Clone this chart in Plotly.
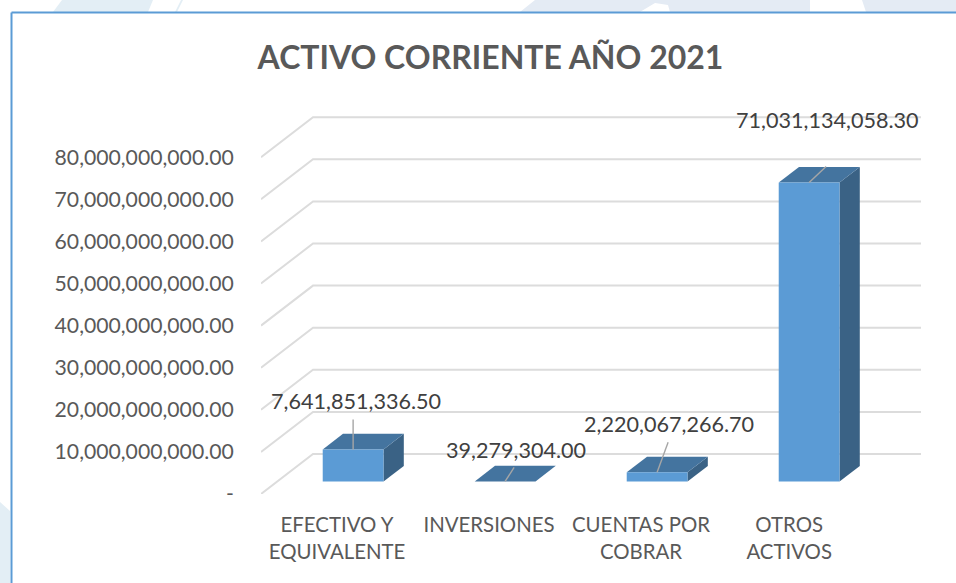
import plotly.graph_objects as go

# ---- data ----
categories = ["EFECTIVO Y<br>EQUIVALENTE", "INVERSIONES", "CUENTAS POR<br>COBRAR", "OTROS<br>ACTIVOS"]
values = [7641851336.50, 39279304.00, 2220067266.70, 71031134058.30]
value_labels = ["7,641,851,336.50", "39,279,304.00", "2,220,067,266.70", "71,031,134,058.30"]
y_ticks = [0, 1e10, 2e10, 3e10, 4e10, 5e10, 6e10, 7e10, 8e10]
title = "ACTIVO CORRIENTE AÑO 2021"

# ---- pixel layout of the plot area ----
W, H = 956, 583
L, R, T, B = 261, 921, 100, 494
PX_PER_X = 152.0              # one category
PX_PER_Y = 42.1 / 1e10        # one value unit
X_MIN = -0.5
X_MAX = X_MIN + (R - L) / PX_PER_X
Y_MAX = (B - T) / PX_PER_Y

# oblique floor: full chart depth, in axis units
DEPTH_X = 52 / PX_PER_X
DEPTH_Y = 40 / PX_PER_Y
BAR_NEAR, BAR_FAR = 0.31, 0.70   # fraction of the depth occupied by the bars
BAR_W = 0.40

FRONT, TOP, SIDE = "#5B9BD5", "#44749F", "#3A6285"
GRID, TEXT, LABEL, LEADER = "#DCDCDC", "#595959", "#404040", "#A6A6A6"
FONT = "Lato"

fig = go.Figure()

# gridlines: slanted floor segment plus the back wall line
for v in y_ticks:
    fig.add_trace(go.Scatter(
        x=[X_MIN, X_MIN + DEPTH_X, X_MAX],
        y=[v, v + DEPTH_Y, v + DEPTH_Y],
        mode="lines", line=dict(color=GRID, width=2),
        hoverinfo="skip", showlegend=False, cliponaxis=False))


def face(xs, ys, color):
    fig.add_trace(go.Scatter(
        x=xs, y=ys, mode="lines", fill="toself", fillcolor=color,
        line=dict(color=color, width=0),
        hoverinfo="skip", showlegend=False, cliponaxis=False))


for i, v in enumerate(values):
    x0 = i - BAR_W / 2 + BAR_NEAR * DEPTH_X
    x1 = x0 + BAR_W
    y0 = BAR_NEAR * DEPTH_Y
    dx = (BAR_FAR - BAR_NEAR) * DEPTH_X
    dy = (BAR_FAR - BAR_NEAR) * DEPTH_Y
    face([x1, x1 + dx, x1 + dx, x1, x1], [y0, y0 + dy, y0 + dy + v, y0 + v, y0], SIDE)
    face([x0, x1, x1 + dx, x0 + dx, x0], [y0 + v, y0 + v, y0 + dy + v, y0 + dy + v, y0 + v], TOP)
    face([x0, x1, x1, x0, x0], [y0, y0, y0 + v, y0 + v, y0], FRONT)

# data labels and their short leader lines, offset in pixels from the bar's top-front centre
label_offsets = [(3, 48), (11, 31), (12, 48), (18, 63)]
leader_offsets = [(0, 30), (9, 14), (11, 30), (17, 16)]
annotations = []
for i, (v, txt, (tx, ty), (lx, ly)) in enumerate(zip(values, value_labels, label_offsets, leader_offsets)):
    ax_x = i + BAR_NEAR * DEPTH_X
    ax_y = BAR_NEAR * DEPTH_Y + v
    fig.add_trace(go.Scatter(
        x=[ax_x, ax_x + lx / PX_PER_X], y=[ax_y, ax_y + ly / PX_PER_Y],
        mode="lines", line=dict(color=LEADER, width=1.4),
        hoverinfo="skip", showlegend=False, cliponaxis=False))
    annotations.append(dict(
        x=ax_x, y=ax_y, xref="x", yref="y", text=txt, showarrow=False,
        xshift=tx, yshift=ty, font=dict(family=FONT, size=21.6, color=LABEL)))


# page frame and the pale background bands around it, given in page pixels
def px_x(p):
    return (p - L) / (R - L)


def px_y(p):
    return (B - p) / (B - T)


def path(points):
    return "M " + " L ".join(f"{px_x(a):.5f},{px_y(b):.5f}" for a, b in points) + " Z"


band_left, band_right = "#E3EEF5", "#E4EBF4"
bands = [
    ([(53, 12), (148, 12), (153, 0), (62, 0)], band_left),
    ([(175, 12), (177, 12), (183, 0), (181, 0)], band_left),
    ([(520, 12), (640, 12), (655, 3), (668, 5), (670, 12), (810, 12), (810, 0), (535, 0)], band_right),
    ([(866, 12), (956, 12), (956, 0), (862, 0)], band_right),
    ([(0, 502), (10, 511), (10, 583), (0, 583)], band_left),
]
shapes = [dict(type="path", xref="paper", yref="paper", path=path(p), fillcolor=c,
               line=dict(width=0), layer="below") for p, c in bands]
shapes += [
    dict(type="line", xref="paper", yref="paper", x0=px_x(11.5), x1=px_x(956),
         y0=px_y(12.5), y1=px_y(12.5), line=dict(color=FRONT, width=2), layer="below"),
    dict(type="line", xref="paper", yref="paper", x0=px_x(11.5), x1=px_x(11.5),
         y0=px_y(12.5), y1=px_y(583), line=dict(color=FRONT, width=2), layer="below"),
]

fig.update_layout(
    width=W, height=H, autosize=False,
    margin=dict(l=L, r=W - R, t=T, b=H - B, pad=0),
    paper_bgcolor="white", plot_bgcolor="rgba(0,0,0,0)",
    showlegend=False, shapes=shapes, annotations=annotations,
    title=dict(text=f"<b>{title}</b>", x=(258 + 723) / 2 / W, xanchor="center",
               y=1 - 58 / H, yanchor="middle",
               font=dict(family=FONT, size=32, color=TEXT)),
    xaxis=dict(range=[X_MIN, X_MAX], tickmode="array", tickvals=[0, 1, 2, 2.975],
               ticktext=categories, showgrid=False, zeroline=False, showline=False,
               ticks="outside", ticklen=13, tickcolor="rgba(0,0,0,0)",
               tickfont=dict(family=FONT, size=20.4, color=TEXT)),
    yaxis=dict(range=[0, Y_MAX], tickmode="array", tickvals=y_ticks,
               ticktext=["-" if t == 0 else f"{t:,.2f}" for t in y_ticks],
               showgrid=False, zeroline=False, showline=False,
               ticks="outside", ticklen=22, tickcolor="rgba(0,0,0,0)",
               tickfont=dict(family=FONT, size=21.2, color=TEXT)),
)

fig.write_html("out.html", config={"displayModeBar": False},
               post_script="document.body.style.margin='0';")
